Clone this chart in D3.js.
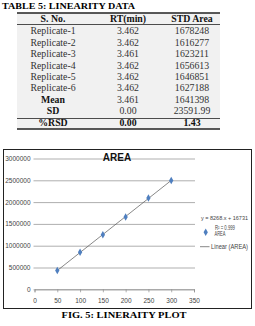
<!DOCTYPE html>
<html>
<head>
<meta charset="utf-8">
<script src="https://cdn.jsdelivr.net/npm/d3@7"></script>
<style>
  body { margin: 0; background: #fff; }
  svg { display: block; }
</style>
</head>
<body>
<svg id="fig" width="255" height="326"></svg>
<script>
// table data
const sNo = ["Replicate-1", "Replicate-2", "Replicate-3", "Replicate-4", "Replicate-5", "Replicate-6", "Mean", "SD", "%RSD"];
const rtMin = ["3.462", "3.462", "3.461", "3.462", "3.462", "3.462", "3.461", "0.00", "0.00"];
const stdArea = ["1678248", "1616277", "1623211", "1656613", "1646851", "1627188", "1641398", "23591.99", "1.43"];
const headers = ["S. No.", "RT(min)", "STD Area"];

// plot data
const conc = [50, 100, 150, 200, 250, 300];
const area = [430000, 848000, 1250000, 1660000, 2095000, 2495000];
const xTicks = [0, 50, 100, 150, 200, 250, 300, 350];
const yTicks = [0, 500000, 1000000, 1500000, 2000000, 2500000, 3000000];
const slope = 8268, intercept = 16731;

const svg = d3.select("#fig");
const serif = "'Liberation Serif', 'Times New Roman', serif";
const sans = "'Liberation Sans Narrow', 'Arial Narrow', 'Liberation Sans', sans-serif";

// ---- table ----
svg.append("text")
    .attr("x", 2).attr("y", 9)
    .attr("font-family", serif).attr("font-weight", "bold").attr("font-size", "8.8px")
    .attr("textLength", 133).attr("lengthAdjust", "spacingAndGlyphs")
    .text("TABLE 5: LINEARITY DATA");

const tLeft = 17, tRight = 220;
const colX = [53, 128, 192];
const rowY = d3.scaleLinear().domain([0, 1]).range([31, 42.4]); // row pitch

svg.append("rect")
    .attr("x", tLeft).attr("y", 13)
    .attr("width", tRight - tLeft).attr("height", 129 - 13)
    .attr("fill", "#f1f1f1");

[[13, 1.5], [24.5, 0.8], [118.5, 0.8], [129, 1.5]].forEach(([y, w]) => {
    svg.append("line")
        .attr("x1", tLeft).attr("x2", tRight).attr("y1", y).attr("y2", y)
        .attr("stroke", "#222").attr("stroke-width", w);
});

svg.selectAll("text.hdr").data(headers).join("text")
    .attr("class", "hdr")
    .attr("x", (d, i) => colX[i]).attr("y", 22)
    .attr("text-anchor", "middle")
    .attr("font-family", serif).attr("font-weight", "bold").attr("font-size", "9.8px")
    .attr("fill", "#111")
    .text(d => d);

const rows = sNo.map((s, i) => [s, rtMin[i], stdArea[i]]);
rows.forEach((r, i) => {
    const bold = i >= 6;
    const boldVals = i === 8;
    r.forEach((v, j) => {
        svg.append("text")
            .attr("x", colX[j]).attr("y", rowY(i) + 3.3)
            .attr("text-anchor", "middle")
            .attr("font-family", serif)
            .attr("font-weight", (j === 0 && bold) || boldVals ? "bold" : "normal")
            .attr("font-size", "9.8px")
            .attr("fill", (j === 0 && bold) || boldVals ? "#111" : "#333")
            .text(v);
    });
});

// ---- chart ----
svg.append("rect")
    .attr("x", 3.5).attr("y", 149.5).attr("width", 248).attr("height", 159)
    .attr("fill", "#fff").attr("stroke", "#222").attr("stroke-width", 1);

const x = d3.scaleLinear().domain([0, 350]).range([34.5, 194]);
const y = d3.scaleLinear().domain([0, 3000000]).range([289.3, 158.5]);

// gridlines
svg.append("g")
    .attr("transform", `translate(${x(0) - 1},0)`)
    .call(d3.axisLeft(y).tickValues(yTicks).tickSize(-(x(350) - x(0) + 2)).tickFormat(d3.format("d")))
    .call(g => g.select(".domain").remove())
    .call(g => g.selectAll(".tick line").attr("stroke", "#8c8c8c").attr("stroke-width", 0.7))
    .call(g => g.selectAll(".tick text").attr("x", -3)
        .attr("font-family", sans).attr("font-size", "6.5px").attr("fill", "#444"));

// x axis
svg.append("g")
    .attr("transform", `translate(0,${y(0)})`)
    .call(d3.axisBottom(x).tickValues(xTicks).tickSize(3).tickFormat(d3.format("d")))
    .call(g => g.select(".domain").attr("stroke", "#8c8c8c").attr("stroke-width", 0.7))
    .call(g => g.selectAll(".tick line").attr("stroke", "#8c8c8c").attr("stroke-width", 0.7))
    .call(g => g.selectAll(".tick text").attr("y", 9)
        .attr("font-family", sans).attr("font-size", "6.5px").attr("fill", "#444"));

// title
svg.append("text")
    .attr("x", 117).attr("y", 160.5)
    .attr("text-anchor", "middle")
    .attr("font-family", sans).attr("font-weight", "bold").attr("font-size", "10px")
    .attr("fill", "#111")
    .text("AREA");

// trendline
const fit = v => slope * v + intercept;
svg.append("path")
    .datum([d3.min(conc), d3.max(conc)])
    .attr("d", d3.line().x(d => x(d)).y(d => y(fit(d))))
    .attr("stroke", "#555").attr("stroke-width", 0.7).attr("fill", "none");

// markers
const diamond = d3.symbol().type(d3.symbolDiamond).size(16);
svg.selectAll("path.pt").data(conc).join("path")
    .attr("class", "pt")
    .attr("d", diamond)
    .attr("transform", (d, i) => `translate(${x(d)},${y(area[i])})`)
    .attr("fill", "#4f7fbf");

// legend
const lg = svg.append("g").attr("font-family", sans).attr("font-size", "6.5px").attr("fill", "#444");
lg.append("text").attr("x", 201).attr("y", 219.5)
    .attr("font-size", "5.6px")
    .attr("textLength", 47).attr("lengthAdjust", "spacingAndGlyphs")
    .text(`y = ${slope}.x + ${intercept}`);
lg.append("text").attr("x", 215).attr("y", 230)
    .attr("textLength", 20).attr("lengthAdjust", "spacingAndGlyphs")
    .text("R² = 0.999");
lg.append("path").attr("d", diamond).attr("transform", "translate(205.7,232.3)").attr("fill", "#4f7fbf");
lg.append("text").attr("x", 214.5).attr("y", 235.5)
    .attr("textLength", 11).attr("lengthAdjust", "spacingAndGlyphs")
    .text("AREA");
lg.append("line").attr("x1", 200).attr("x2", 209.5).attr("y1", 246.7).attr("y2", 246.7)
    .attr("stroke", "#555").attr("stroke-width", 0.7);
lg.append("text").attr("x", 211).attr("y", 249)
    .attr("textLength", 37).attr("lengthAdjust", "spacingAndGlyphs")
    .text("Linear (AREA)");

// caption
svg.append("text")
    .attr("x", 124).attr("y", 317.5)
    .attr("text-anchor", "middle")
    .attr("font-family", serif).attr("font-weight", "bold").attr("font-size", "9px")
    .attr("textLength", 125).attr("lengthAdjust", "spacingAndGlyphs")
    .text("FIG. 5: LINERAITY PLOT");
</script>
</body>
</html>
